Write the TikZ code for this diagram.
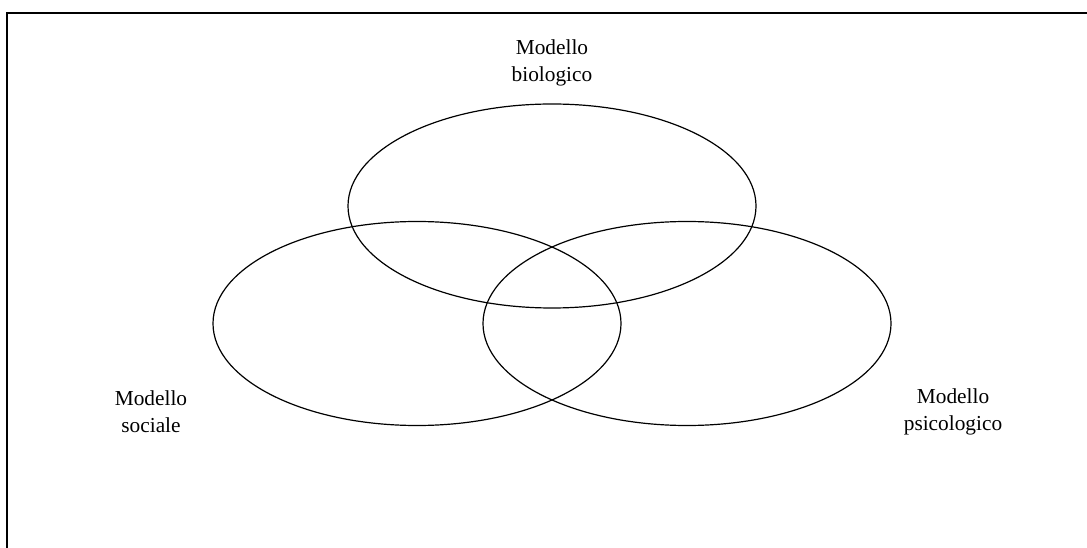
\documentclass[tikz,border=0pt]{standalone}
\usepackage{fontspec}
\setmainfont{Liberation Serif}
\usetikzlibrary{shapes.geometric}
\begin{document}
\begin{tikzpicture}[x=0.75pt,y=-0.75pt,
  model/.style={draw=black,line width=0.9pt,ellipse,inner sep=0pt,minimum width=306pt,minimum height=153pt},
  lbl/.style={align=center,font=\fontsize{16}{20}\selectfont,inner sep=0pt}]
\clip (0,0) rectangle (1087,548);
\fill[white] (0,0) rectangle (1087,548);
\draw[line width=1.5pt] (7,560) -- (7,13.5) -- (1100,13.5);
\node[model] (bio) at (552,206) {};
\node[model] (soc) at (417,323.5) {};
\node[model] (psi) at (687,323.5) {};
\node[lbl] (tbio) at (552,63) {Modello\\biologico};
\node[lbl] (tsoc) at (151,412) {Modello\\sociale};
\node[lbl] (tpsi) at (953,412) {Modello\\psicologico};
\end{tikzpicture}
\end{document}
